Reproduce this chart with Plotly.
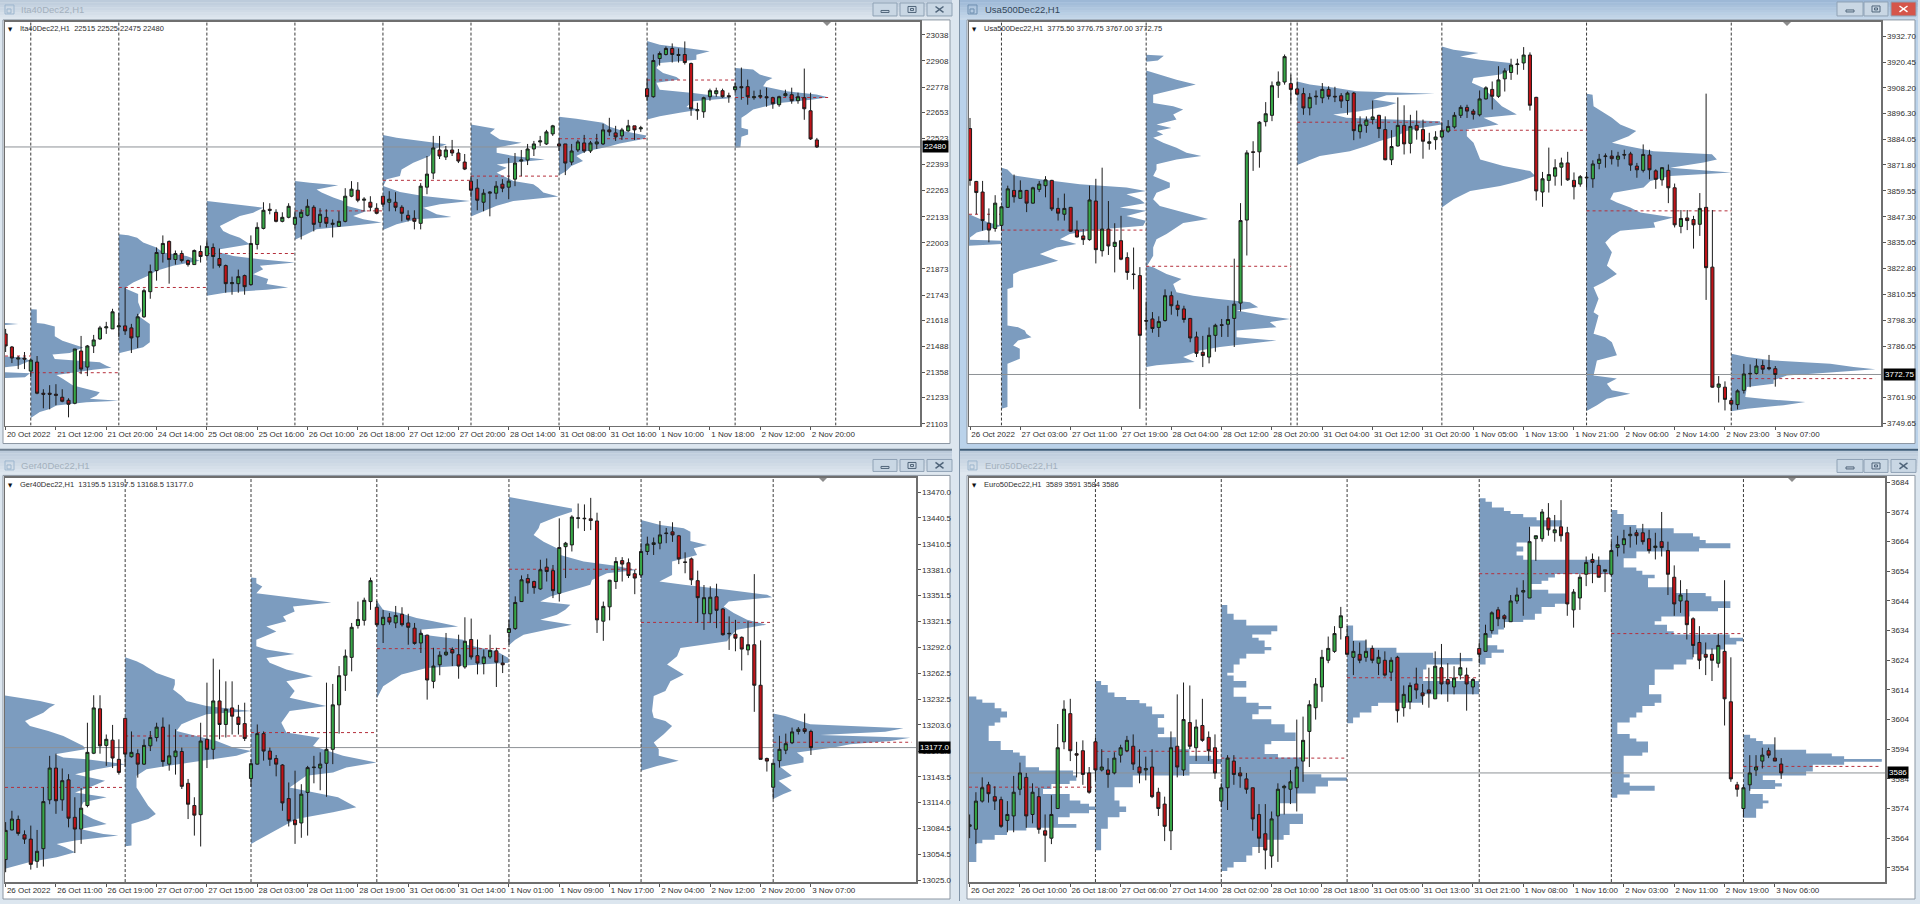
import plotly.graph_objects as go

# ---------- Ita40 ----------
ITA_HEADER = "Ita40Dec22,H1  22515 22525 22475 22480"
ITA_OHLC = [
[21550,21575,21460,21490],[21485,21490,21405,21430],[21425,21440,21375,21430],[21430,21460,21375,21425],[21365,21425,21335,21420],
[21410,21440,21250,21255],[21255,21275,21180,21250],[21255,21295,21175,21250],[21250,21300,21195,21245],[21235,21275,21210,21215],
[21220,21230,21135,21200],[21205,21475,21200,21475],[21465,21540,21350,21375],[21385,21495,21340,21490],[21490,21545,21455,21520],
[21525,21590,21520,21580],[21580,21610,21550,21585],[21575,21675,21575,21660],[21585,21655,21535,21590],[21590,21780,21545,21565],
[21580,21600,21455,21530],[21535,21650,21480,21635],[21635,21775,21630,21765],[21760,21895,21725,21860],[21865,21980,21815,21955],
[21950,22040,21905,22000],[22010,22015,21800,21920],[21920,21965,21895,21950],[21950,21965,21905,21915],[21915,21920,21885,21895],
[21895,21970,21895,21965],[21960,21990,21905,21935],[21940,22015,21930,21985],[21980,22000,21875,21935],[21925,21975,21880,21890],
[21890,21895,21755,21800],[21800,21835,21745,21805],[21800,21870,21755,21835],[21840,21845,21745,21785],[21795,22040,21790,22000],
[21995,22105,21970,22080],[22075,22205,22070,22165],[22170,22200,22145,22165],[22155,22170,22105,22110],[22110,22155,22105,22130],
[22130,22200,22125,22185],[22095,22160,22075,22130],[22130,22170,22020,22155],[22140,22220,22135,22185],[22180,22190,22060,22095],
[22105,22175,22080,22145],[22130,22170,22080,22100],[22095,22120,22030,22100],[22085,22160,22085,22110],[22110,22275,22105,22235],
[22235,22310,22230,22270],[22265,22305,22205,22215],[22215,22230,22160,22220],[22205,22235,22160,22180],[22175,22200,22145,22150],
[22235,22235,22180,22195],[22205,22260,22160,22220],[22205,22255,22160,22180],[22180,22190,22110,22150],[22140,22165,22110,22120],
[22125,22165,22070,22110],[22100,22300,22070,22285],[22280,22435,22245,22345],[22350,22535,22320,22475],[22465,22535,22420,22435],
[22430,22485,22415,22465],[22465,22515,22435,22450],[22450,22470,22400,22410],[22405,22445,22365,22370],[22310,22335,22230,22265],
[22275,22320,22165,22215],[22205,22270,22160,22250],[22250,22260,22135,22255],[22250,22310,22220,22285],[22295,22320,22255,22275],
[22280,22425,22220,22310],[22320,22450,22285,22400],[22410,22465,22335,22415],[22415,22495,22390,22470],[22470,22510,22435,22495],
[22505,22535,22485,22510],[22495,22565,22490,22555],[22545,22590,22535,22585],[22495,22525,22460,22485],[22495,22495,22340,22400],
[22405,22495,22390,22460],[22465,22515,22455,22505],[22500,22540,22450,22460],[22460,22510,22450,22500],[22495,22545,22470,22505],
[22495,22595,22490,22565],[22565,22625,22535,22555],[22550,22585,22510,22530],[22535,22575,22515,22565],[22560,22615,22555,22585],
[22585,22585,22515,22565],[22570,22585,22555,22575],[22770,22820,22710,22730],[22730,22940,22725,22910],[22920,22955,22885,22945],
[22940,22980,22935,22970],[22970,22995,22900,22940],[22935,22970,22900,22940],[22940,23005,22890,22900],[22895,22900,22635,22670],
[22660,22700,22615,22665],[22655,22730,22625,22725],[22730,22770,22710,22760],[22745,22775,22730,22760],[22760,22770,22725,22730],
[22735,22750,22700,22730],[22765,22800,22750,22780],[22780,22875,22715,22775],[22780,22815,22690,22730],[22725,22760,22715,22730],
[22730,22765,22720,22735],[22730,22775,22680,22725],[22725,22730,22670,22695],[22690,22735,22680,22730],[22735,22765,22730,22745],
[22740,22775,22695,22710],[22710,22750,22695,22730],[22725,22870,22615,22670],[22660,22750,22515,22520],[22515,22525,22475,22480],
]
ITA_SEPARATORS = [4,18,32,46,60,74,88,102,116,132]
ITA_XTICKS = ['20 Oct 2022','21 Oct 12:00','21 Oct 20:00','24 Oct 14:00','25 Oct 08:00','25 Oct 16:00','26 Oct 10:00','26 Oct 18:00','27 Oct 12:00','27 Oct 20:00','28 Oct 14:00','31 Oct 08:00','31 Oct 16:00','1 Nov 10:00','1 Nov 18:00','2 Nov 12:00','2 Nov 20:00']
ITA_YTICKS = ['23038','22908','22778','22653','22523','22393','22263','22133','22003','21873','21743','21618','21488','21358','21233','21103']
ITA_LAST = '22480'
# profile rows: (price level, volume)
ITA_PROFILES = [
 (-0.1, 4, 21440, [(21604,0),(21599,40),(21594,0),(21438,0),(21433,55),(21417,75),(21392,40),(21384,0),(21359,0),(21354,75),(21334,60),(21331,0)]),
 (4, 18, 21357, [(21673,0),(21672,18),(21604,18),(21600,40),(21587,72),(21538,72),(21516,95),(21500,122),(21483,157),(21455,117),(21448,65),(21425,72),(21409,207),(21392,227),(21382,242),(21372,187),(21346,77),(21326,97),(21293,127),(21260,207),(21243,197),(21227,177),(21217,264),(21210,167),(21194,77),(21177,57),(21161,27),(21132,0)]),
 (18, 32, 21781, [(22046,0),(22041,28),(22029,55),(22005,73),(21980,113),(21955,133),(21938,203),(21914,243),(21889,163),(21864,113),(21839,88),(21806,43),(21781,20),(21773,23),(21748,58),(21707,58),(21665,68),(21641,58),(21599,93),(21508,93),(21484,73),(21467,30),(21454,0)]),
 (32, 46, 21950, [(22211,0),(22195,79),(22178,169),(22153,139),(22137,99),(22112,69),(22087,39),(22062,49),(22046,69),(22029,99),(21996,129),(21971,39),(21955,39),(21938,79),(21922,159),(21905,264),(21889,159),(21872,169),(21847,139),(21823,184),(21798,179),(21781,244),(21770,179),(21756,59),(21740,0)]),
 (46, 60, 22162, [(22311,0),(22302,45),(22289,130),(22269,65),(22253,80),(22228,115),(22211,145),(22187,155),(22162,215),(22137,175),(22120,205),(22104,260),(22087,165),(22071,65),(22046,35),(22018,0)]),
 (60, 74, 22314, [(22539,0),(22526,41),(22509,121),(22493,191),(22468,151),(22435,141),(22402,91),(22368,56),(22335,51),(22319,11),(22286,1),(22256,51),(22236,121),(22211,261),(22195,171),(22178,121),(22145,161),(22132,206),(22120,101),(22096,41),(22067,0)]),
 (74, 88, 22335, [(22592,0),(22570,72),(22550,57),(22517,87),(22501,152),(22476,77),(22451,77),(22435,127),(22418,222),(22393,77),(22377,107),(22352,77),(22311,127),(22294,187),(22277,202),(22253,217),(22233,262),(22211,127),(22187,77),(22153,27),(22134,0)]),
 (88, 102, 22521, [(22630,0),(22620,52),(22600,132),(22580,152),(22559,192),(22537,262),(22521,257),(22497,182),(22481,147),(22459,82),(22435,52),(22410,72),(22385,37),(22360,22),(22339,0)]),
 (102, 116, 22813, [(23007,0),(22989,38),(22972,118),(22956,188),(22939,148),(22914,148),(22898,38),(22873,28),(22848,48),(22828,88),(22815,98),(22799,28),(22765,38),(22749,138),(22724,258),(22708,138),(22679,118),(22666,158),(22650,98),(22633,38),(22617,0)]),
 (116, 130.8, 22726, [(22873,0),(22865,54),(22840,74),(22823,112),(22807,94),(22782,84),(22757,154),(22741,244),(22727,279),(22716,234),(22699,134),(22683,94),(22666,54),(22641,34),(22625,19),(22575,19),(22567,39),(22542,39),(22531,19),(22478,16),(22476,0)]),
]

# ---------- Usa500 ----------
USA_HEADER = "Usa500Dec22,H1  3775.50 3776.75 3767.00 3772.75"
USA_OHLC = [
[3889,3894,3862,3864.5],[3864,3864.25,3848.5,3858.75],[3859,3864.25,3840.75,3845.5],[3844.25,3851.25,3835.25,3841],[3841.75,3857.5,3840.25,3853.75],
[3843.25,3852.5,3840.75,3852],[3851.75,3862,3851.5,3860.5],[3859.75,3867.25,3854,3856.75],[3856,3864.5,3856,3859.75],[3859.75,3860,3849.5,3853.75],
[3853.75,3861.5,3853.5,3861],[3860.25,3864.25,3859,3862.75],[3862,3866.5,3856.5,3864.75],[3864.5,3864.75,3850,3851],[3851.25,3856.25,3845.5,3849],
[3848.5,3858.25,3845.5,3851.25],[3851.75,3851.75,3840.25,3840.5],[3841,3845.5,3837.5,3837.75],[3838.25,3841.5,3834,3836.5],[3836.5,3862,3836,3855.25],
[3854.75,3865.25,3825.25,3831.75],[3831.25,3870.5,3828.5,3841.5],[3841.5,3854.75,3829.25,3833.5],[3833.25,3844.25,3821,3835.25],[3836,3847.75,3826.75,3827.25],
[3828,3830.5,3817.5,3821],[3820.25,3832.75,3813,3820],[3819.5,3823.5,3756.5,3791.25],[3798.25,3807.25,3794,3798],[3799,3802.25,3792.5,3794.5],
[3795,3800.25,3790.5,3797.75],[3798.25,3813,3797.75,3810],[3810,3812,3801,3805.25],[3805.5,3807.75,3800.25,3803.5],[3803.75,3805.25,3797.25,3798.75],
[3799.25,3799.5,3788,3790],[3790.5,3793,3781,3782.75],[3783.25,3791,3776.25,3781.75],[3781,3795,3778,3791.25],[3791.25,3796.75,3783.5,3796],
[3796.25,3799,3790.5,3796],[3796.5,3805.25,3790.5,3798.75],[3799.25,3827.5,3785.75,3806],[3806.5,3853.75,3802.5,3845.5],[3845.75,3878.75,3829,3877.5],
[3878,3883,3869,3877.75],[3878,3892.5,3870.5,3892],[3892.25,3901.5,3890,3896],[3895.25,3911.25,3892.5,3909.25],[3909.5,3916,3903.5,3911],
[3911,3924,3909.75,3923],[3910.25,3914.5,3900.75,3907.5],[3907.75,3911.25,3905,3905.25],[3905.5,3908.25,3895.5,3898.75],[3898.75,3905.75,3895.25,3903.75],
[3904,3907,3900.25,3904.25],[3903.5,3910.5,3901,3907.5],[3907.5,3909,3902.75,3904.25],[3904.25,3908.75,3901.5,3904],[3904.5,3905.75,3898.75,3902],
[3902.25,3906.5,3895.5,3905.75],[3905.75,3906.25,3883.5,3888],[3887.5,3894.75,3884.25,3890.75],[3890.5,3894.75,3887,3893],[3893.25,3902.25,3891,3894.5],
[3895.25,3895.5,3884.5,3889],[3888.5,3894.75,3874,3874.25],[3874.25,3888.25,3871.75,3880.5],[3880.75,3903.75,3880.5,3890.5],[3890.5,3900,3876.75,3881.75],
[3882,3895.5,3877.25,3890],[3890.5,3897.5,3883.75,3888.25],[3888.5,3893.25,3874.75,3883],[3882,3887,3879,3882.75],[3883.75,3887.75,3879,3885],
[3885,3891.75,3884.5,3888],[3887.75,3893,3887,3890],[3889.75,3896.75,3889,3895.25],[3895.25,3900,3894,3899],[3899,3900.25,3894,3897.25],
[3897.25,3898.25,3893.25,3895.75],[3895.5,3907,3894.75,3903],[3903,3909,3902.75,3908.25],[3907.5,3911.25,3898,3904.25],[3904.25,3918.5,3903.5,3912],
[3912.5,3917.5,3906.5,3916.25],[3915.5,3922,3912,3919],[3919.25,3922,3914.5,3919.5],[3920,3927.5,3916.75,3923.75],[3923.75,3925,3897.5,3900],
[3903.75,3904,3855,3859.5],[3859,3868.5,3852,3865.25],[3864.5,3880,3858.75,3867.25],[3866.5,3874.5,3862,3870.5],[3870.75,3875.25,3862,3872.75],
[3872.75,3878,3864.25,3864.75],[3864.5,3868.25,3855.5,3861.5],[3862.75,3867,3861.5,3866.25],[3866,3868.5,3861,3865.75],[3865.25,3874,3861,3872.25],
[3872.5,3877,3869.75,3874.5],[3875.75,3877.25,3870.5,3876],[3876,3878.75,3872,3874.75],[3874.5,3878,3871,3876],[3876.75,3879,3874.5,3876.5],
[3877,3878,3869,3871.75],[3871.25,3872.75,3865.75,3869.5],[3869.25,3881.5,3868.25,3876.75],[3876.5,3879,3865,3869.5],[3869,3869.75,3860.5,3865],
[3864.75,3870.75,3862,3870.5],[3869.25,3872,3853.75,3861],[3861,3863,3842.25,3843.5],[3842.75,3850.5,3839.5,3846.5],[3846.75,3850.5,3841,3845.5],
[3846,3847.75,3832.25,3843.5],[3843.75,3858.5,3838.25,3851.25],[3851.75,3905.5,3808,3823.25],[3823.5,3850.5,3766.5,3766.75],[3766.75,3772,3759.5,3768.25],
[3766.75,3769.5,3755.75,3761],[3760.5,3761.75,3755.5,3758.75],[3758.5,3765.75,3756.25,3765],[3765.25,3777.75,3763.75,3773],[3773,3777.5,3766.75,3773.25],
[3773.25,3780,3772.75,3776.75],[3777,3779.5,3773,3775.25],[3776,3782,3774.75,3775.5],[3775.5,3776.75,3767.0,3772.75],
]
USA_SEPARATORS = [5,28,51,52,75,98,121]
USA_XTICKS = ['26 Oct 2022','27 Oct 03:00','27 Oct 11:00','27 Oct 19:00','28 Oct 04:00','28 Oct 12:00','28 Oct 20:00','31 Oct 04:00','31 Oct 12:00','31 Oct 20:00','1 Nov 05:00','1 Nov 13:00','1 Nov 21:00','2 Nov 06:00','2 Nov 14:00','2 Nov 23:00','3 Nov 07:00']
USA_YTICKS = ['3932.70','3920.45','3908.20','3896.30','3884.05','3871.80','3859.55','3847.30','3835.05','3822.80','3810.55','3798.30','3786.05','3761.90','3749.65']
USA_LAST = '3772.75'
USA_PROFILES = [
 (-0.16, 5, 3848.5, [(3848.5,0),(3844.6,58),(3843,98),(3841.4,58),(3839.9,23),(3837.5,3),(3836.4,3),(3836,98),(3834.4,98),(3833.6,0)]),
 (5, 28, 3841, [(3870.5,0),(3869.7,18),(3866.9,35),(3865,115),(3862.7,235),(3861.1,375),(3859.5,433),(3857.9,375),(3855.6,415),(3853.7,430),(3851.7,355),(3850.1,435),(3847.7,375),(3845.4,433),(3843,425),(3841.1,275),(3839.1,205),(3836.7,175),(3834.4,225),(3832.8,165),(3829.7,115),(3826.5,170),(3824.2,115),(3821.8,55),(3820.2,35),(3814,35),(3813.2,18),(3795.9,18),(3795.1,50),(3793.5,70),(3792,75),(3790.4,90),(3788.8,50),(3786.5,35),(3784.9,55),(3780.2,55),(3777.8,18),(3757.4,18),(3756.6,0)]),
 (28, 51, 3823.9, [(3923.9,0),(3923.4,53),(3921.2,35),(3920.6,0),(3916.5,0),(3914.5,41),(3912.1,91),(3909.8,149),(3908.7,121),(3906.6,61),(3905,21),(3901.1,21),(3899.6,81),(3898,111),(3895.6,81),(3893.3,91),(3890.9,31),(3889.3,76),(3887.8,31),(3886.2,51),(3884.6,21),(3882.3,51),(3879.9,91),(3877.6,121),(3876,166),(3874.4,91),(3872.1,31),(3869.7,31),(3866.6,21),(3863.4,71),(3861.1,71),(3858.7,31),(3855.6,21),(3852.4,41),(3849.3,111),(3846.2,186),(3844.3,111),(3841.4,81),(3839.1,61),(3836.7,31),(3832.8,21),(3828.9,21),(3824.2,3),(3823.4,21),(3820.2,61),(3817.9,106),(3815.5,81),(3811.6,91),(3810,141),(3808.5,211),(3806.9,311),(3804.5,336),(3803,271),(3800.6,356),(3799,431),(3797.5,371),(3795.1,391),(3793.5,271),(3790.4,271),(3788.8,391),(3787.2,301),(3785.7,221),(3784.1,161),(3781,111),(3778.6,146),(3777.1,31),(3776.3,0)]),
 (52, 75, 3892, [(3911.3,0),(3909.8,38),(3908.2,118),(3906.6,178),(3905.5,413),(3904.8,268),(3902.7,228),(3901.1,298),(3899.6,268),(3897.2,188),(3895.6,108),(3894.1,148),(3892.5,428),(3890.9,433),(3889.3,368),(3887.8,328),(3885.4,298),(3883.1,248),(3880.7,208),(3878.3,158),(3876,68),(3873.6,28),(3871.8,0)]),
 (75, 98, 3888.2, [(3927.8,0),(3926.3,35),(3924.7,110),(3923.1,55),(3921.5,115),(3920,205),(3917.6,215),(3914.5,175),(3912.9,95),(3910.6,90),(3908.2,125),(3904.3,150),(3899.6,180),(3895.6,225),(3894.1,125),(3890.9,170),(3888.6,75),(3885.4,75),(3882.3,95),(3874.4,115),(3871.3,185),(3868.9,265),(3866.6,280),(3864.2,235),(3861.9,175),(3859.5,85),(3855.6,35),(3851.7,0)]),
 (98, 121, 3850.1, [(3905.5,0),(3905,18),(3899.6,21),(3896.4,51),(3894.1,76),(3890.9,101),(3887.8,149),(3885.4,126),(3882.3,76),(3880.7,121),(3878.3,201),(3876.8,376),(3874.4,391),(3872.9,351),(3870.5,251),(3868.2,434),(3866.6,251),(3864.2,191),(3861.1,171),(3858.7,81),(3855.6,71),(3854,91),(3851.7,131),(3849.3,161),(3846.9,261),(3844.6,201),(3842.2,206),(3840.7,101),(3838.3,76),(3835.2,56),(3830.5,76),(3824.2,61),(3820.2,91),(3816.3,51),(3814,21),(3808.5,36),(3802.2,21),(3800.6,36),(3792,21),(3790.4,56),(3788,76),(3781.8,91),(3779.4,31),(3772.3,21),(3770.8,91),(3768.4,61),(3765.3,76),(3763.7,131),(3761.3,61),(3758.2,31),(3755.5,0)]),
 (121, 143.9, 3770.8, [(3782.5,0),(3781,47),(3779.4,127),(3777.8,297),(3776.3,367),(3775.2,432),(3773.9,317),(3772.3,167),(3770,127),(3768.4,127),(3766.8,47),(3762.1,42),(3761,107),(3759.8,222),(3758.2,157),(3756.6,47),(3755.4,0)]),
]

# ---------- Ger40 ----------
GER_HEADER = "Ger40Dec22,H1  13195.5 13197.5 13168.5 13177.0"
GER_OHLC = [
[13048.5,13091.5,13034,13082],[13082.5,13104.5,13082,13095],[13094.5,13099,13076,13078.5],[13077,13082,13066.5,13072],[13072,13087.5,13037,13043],
[13046.5,13082.5,13039,13058],[13061,13131.5,13040.5,13115],[13117,13167.5,13112,13153.5],[13153.5,13170,13101,13116],[13117,13153,13104.5,13139],
[13140,13146.5,13085.5,13096],[13097,13120,13056,13083.5],[13083.5,13130.5,13066.5,13107.5],[13110.5,13205.5,13108.5,13171.5],[13170.5,13237,13169.5,13222.5],
[13221.5,13237,13170,13179],[13179.5,13192,13156,13186.5],[13185.5,13203,13153.5,13165],[13163.5,13186.5,13146,13148.5],[13210.5,13211.5,13155,13169.5],
[13166.5,13195.5,13165.5,13171.5],[13170,13175,13142.5,13158],[13158,13186.5,13157,13179.5],[13179,13196,13173,13188.5],[13188.5,13205.5,13184,13200.5],
[13200.5,13211.5,13155,13161],[13158,13203.5,13150.5,13167.5],[13166.5,13198,13146,13173],[13172.5,13177,13129.5,13132.5],[13136,13141,13095,13112],
[13110.5,13120,13076,13099.5],[13100,13205.5,13063.5,13184.5],[13186.5,13251.5,13153.5,13175],[13175,13279,13163.5,13230.5],[13230.5,13266.5,13186.5,13203.5],
[13203.5,13253,13188.5,13221],[13222.5,13253,13192,13213],[13212,13226,13192,13203.5],[13204.5,13228.5,13184.5,13187.5],[13141.5,13163.5,13132,13158.5],
[13158,13203.5,13157.5,13193],[13193,13195.5,13162,13173],[13173,13177,13156,13163.5],[13164.5,13168.5,13144,13158],[13157,13158,13104.5,13113.5],
[13118.5,13137,13086.5,13093],[13094,13150.5,13066.5,13088.5],[13090.5,13135,13073.5,13123.5],[13125.5,13156,13076,13154],[13154,13167.5,13136,13154.5],
[13153.5,13171.5,13128,13158],[13159,13251.5,13120.5,13175],[13175,13250,13158,13226],[13226,13270.5,13193,13259.5],[13260,13289.5,13242,13282],
[13280.5,13320,13264.5,13315],[13317,13344.5,13313.5,13324],[13323,13349,13317,13346],[13344.5,13372,13335,13368.5],[13338,13345.5,13316,13318],
[13318,13335,13297,13326.5],[13326.5,13331.5,13318,13321],[13320,13339.5,13314,13328.5],[13330,13338,13316,13318],[13320,13330.5,13295,13315],
[13314,13320,13295,13296.5],[13297,13312.5,13285.5,13308],[13306,13306.5,13232,13254.5],[13253,13291.5,13245,13270.5],[13272,13287.5,13260,13283],
[13283.5,13308.5,13282,13286.5],[13289.5,13292,13270.5,13285.5],[13283.5,13306.5,13256,13270.5],[13269.5,13326.5,13267.5,13299],[13301,13325,13278,13281],
[13282.5,13301,13261,13274],[13273.5,13289.5,13261,13281],[13281,13306.5,13279,13288.5],[13288,13291.5,13246.5,13275],[13274,13283,13262.5,13272],
[13309,13323.5,13295,13313.5],[13313.5,13350.5,13312,13343.5],[13344.5,13374.5,13344,13369.5],[13371,13376,13353.5,13366],[13367.5,13368.5,13353.5,13360.5],
[13359,13392.5,13358,13381],[13384,13394,13367.5,13379],[13380,13386.5,13348.5,13357],[13354,13440,13344.5,13406.5],[13407.5,13413,13371.5,13411.5],
[13409.5,13443.5,13402,13441.5],[13440,13457,13428.5,13440.5],[13439.5,13456,13425.5,13440],[13439.5,13463.5,13426.5,13437.5],[13437,13446.5,13308.5,13323.5],
[13322,13344.5,13299.5,13339],[13338.5,13369.5,13323,13369],[13367.5,13395.5,13359,13390.5],[13391.5,13395.5,13367.5,13387.5],[13389,13394,13371.5,13374.5],
[13376.5,13381,13353,13371.5],[13375,13411.5,13371.5,13402],[13402,13419,13398,13410.5],[13410,13418,13398,13412],[13411.5,13437,13404.5,13421],
[13422.5,13429,13411.5,13423],[13424.5,13435.5,13413,13421],[13420,13421,13387.5,13393.5],[13390,13401,13377,13389.5],[13393.5,13395,13363.5,13369.5],
[13368.5,13380,13320.5,13349],[13330.5,13363.5,13312,13349],[13330.5,13362,13320,13349.5],[13350,13365,13314,13334.5],[13336,13337,13305.5,13306.5],
[13307.5,13327.5,13289,13308],[13307,13323.5,13287.5,13302.5],[13303.5,13304.5,13265.5,13290],[13289,13322,13283,13295],[13295,13376,13218,13248.5],
[13248.5,13300,13163.5,13163.5],[13164.5,13165.5,13149.5,13161.5],[13131.5,13160,13118,13159],[13162,13190.5,13154,13175],[13174,13193,13169.5,13181.5],
[13182.5,13200,13181,13195],[13195.5,13200.5,13192,13198],[13198.5,13216,13193,13195.5],[13195.5,13197.5,13168.5,13177.0],
]
GER_SEPARATORS = [19,39,59,80,101,122]
GER_XTICKS = ['26 Oct 2022','26 Oct 11:00','26 Oct 19:00','27 Oct 07:00','27 Oct 15:00','28 Oct 03:00','28 Oct 11:00','28 Oct 19:00','31 Oct 06:00','31 Oct 14:00','1 Nov 01:00','1 Nov 09:00','1 Nov 17:00','2 Nov 04:00','2 Nov 12:00','2 Nov 20:00','3 Nov 07:00']
GER_YTICKS = ['13470.0','13440.5','13410.5','13381.0','13351.5','13321.5','13292.0','13262.5','13232.5','13203.0','13173.0','13143.5','13114.0','13084.5','13054.5','13025.0']
GER_LAST = '13177.0'
GER_PROFILES = [
 (-0.1, 19, 13131.3, [(13236.8,0),(13234.1,45),(13230.3,105),(13226.5,150),(13222.7,133),(13217,115),(13213.2,95),(13207.5,60),(13201.8,75),(13196,130),(13190.3,175),(13184.6,205),(13178.9,235),(13175.1,240),(13169.4,150),(13165.6,175),(13163.7,245),(13158,360),(13152.2,275),(13146.5,210),(13138.9,300),(13133.2,265),(13125.6,210),(13119.9,305),(13114.2,235),(13106.5,225),(13100.8,235),(13095.1,265),(13089.4,305),(13083.6,225),(13077.9,295),(13076,340),(13070.3,210),(13066.5,155),(13062.7,180),(13057,210),(13051.3,155),(13045.6,75),(13037.9,0)]),
 (19, 39, 13190.3, [(13280.6,0),(13276.1,34),(13272.2,54),(13262.7,94),(13255.1,149),(13249.4,149),(13243.7,144),(13236.1,169),(13230.3,184),(13224.6,244),(13218.9,378),(13215.1,244),(13209.4,204),(13203.7,169),(13196,154),(13184.6,274),(13177,324),(13173.2,378),(13167.5,334),(13161.8,224),(13156,124),(13152.2,64),(13144.6,34),(13131.3,34),(13119.9,54),(13110.3,69),(13100.8,92),(13095.1,69),(13089.4,19),(13064.6,19),(13063.8,0)]),
 (39, 59, 13194.2, [(13372,0),(13371.5,16),(13365.6,16),(13361.8,34),(13354.2,16),(13350.4,96),(13346.6,186),(13343.5,241),(13338.9,126),(13333.2,131),(13327.5,96),(13321.8,106),(13316,46),(13310.3,76),(13300.8,16),(13293.2,16),(13289.4,46),(13284.4,131),(13279.9,46),(13274.2,56),(13266.5,106),(13258.9,186),(13253.2,106),(13241.8,131),(13234.1,116),(13224.6,226),(13218.9,116),(13205.6,91),(13194.2,106),(13188.4,206),(13178.9,186),(13167.5,276),(13159.9,376),(13154.1,286),(13148.4,246),(13144.6,166),(13131.3,116),(13119.9,261),(13108.4,316),(13102.7,246),(13095.1,136),(13083.6,81),(13074.1,36),(13066.5,0)]),
 (59, 80, 13290.5, [(13345.4,0),(13335.1,19),(13331.3,69),(13325.6,119),(13321.8,169),(13316,244),(13312.3,129),(13306.5,139),(13300.8,259),(13295.1,269),(13287.5,359),(13279.9,395),(13274.2,395),(13268.4,149),(13260.8,74),(13255.1,49),(13247.5,19),(13233.4,0)]),
 (80, 100.3, 13381.6, [(13464.6,0),(13460.8,54),(13455.1,124),(13451.3,189),(13447.5,189),(13441.8,144),(13434.2,94),(13428.5,89),(13420.8,74),(13413.2,104),(13405.6,144),(13398,154),(13390.4,224),(13385.8,314),(13380.8,384),(13377,294),(13369.4,249),(13363.7,244),(13358,194),(13350.4,124),(13344.6,94),(13340.8,184),(13335.1,169),(13329.4,144),(13323.7,94),(13318,189),(13312.3,114),(13306.5,44),(13300.8,19),(13294.3,0)]),
 (101, 122, 13320.6, [(13438,0),(13432.3,58),(13428.5,128),(13424.6,148),(13414,148),(13409.4,198),(13405.6,158),(13398,168),(13390.4,93),(13375.1,93),(13367.5,55),(13363.7,128),(13358,258),(13352.3,378),(13349.6,393),(13344.6,263),(13338.9,248),(13331.3,278),(13323.7,318),(13318,376),(13312.3,288),(13304.6,268),(13298.9,258),(13291.3,118),(13281.8,108),(13272.2,78),(13260.8,128),(13253.2,88),(13241.8,73),(13236.1,38),(13218.9,33),(13211.3,38),(13207.5,73),(13201.8,93),(13192.2,68),(13182.7,38),(13175.1,53),(13167.5,53),(13161.8,113),(13156,48),(13150.3,0)]),
 (122, 144, 13183.1, [(13216.2,0),(13213.2,36),(13207.5,81),(13203.7,111),(13199.1,391),(13195.3,336),(13191.5,141),(13188.4,411),(13184.6,351),(13180.8,231),(13177,181),(13171.3,71),(13165.6,91),(13159.9,91),(13154.9,21),(13144.6,56),(13138.9,16),(13127.5,56),(13123.7,31),(13118,0)]),
]

# ---------- Euro50 ----------
EUR_HEADER = "Euro50Dec22,H1  3589 3591 3584 3586"
EUR_OHLC = [
[3568,3572,3564,3568.5],[3567,3579.5,3562,3576.5],[3576.5,3584.5,3576,3581],[3582,3583,3576,3579],[3578,3581.5,3573.5,3576.5],
[3577,3578,3567.5,3568],[3570,3576.5,3566,3572],[3571.5,3585,3566,3579.5],[3580.5,3589.5,3578.5,3586],[3584.5,3586,3567.5,3571.5],
[3572,3582.5,3569,3579.5],[3578,3581,3565.5,3567],[3566.5,3572,3556,3565],[3564,3578.5,3562,3572],[3574,3602.5,3574,3594.5],
[3596.5,3610.5,3594,3607.5],[3606,3611,3590,3593.5],[3592.5,3596.5,3584.5,3592],[3593.5,3597,3582,3585.5],[3586,3588,3579,3579.5],
[3596.5,3598,3583.5,3587],[3587,3594,3586.5,3588],[3587,3591,3581,3585.5],[3586,3593,3585.5,3591],[3592,3595.5,3589.5,3594.5],
[3593.5,3598.5,3593,3597],[3595,3599,3587,3589],[3588,3594,3582.5,3586],[3587,3591.5,3583.5,3587.5],[3588,3594,3577.5,3578],
[3579.5,3581,3571.5,3574],[3575.5,3578,3563,3568],[3566.5,3600,3560,3594.5],[3595,3612.5,3584.5,3588],[3587,3616.5,3585,3604],
[3603,3615.5,3594,3595],[3594.5,3604,3590,3601.5],[3602,3611,3596.5,3597],[3598,3600,3590,3593.5],[3594.5,3599,3584,3586],
[3576.5,3582.5,3574.5,3581],[3581,3592,3573.5,3591],[3590,3592,3582,3585.5],[3586,3588,3581,3585],[3584,3586,3579,3580.5],
[3581,3581,3566.5,3570.5],[3572,3575.5,3559,3564],[3565.5,3575.5,3553.5,3560],[3558,3573,3554,3570.5],[3571.5,3582.5,3556,3580.5],
[3581,3582,3572,3581.5],[3580.5,3587,3575.5,3583],[3581,3604,3573,3588],[3590,3605,3583,3597],[3600,3610.5,3588,3609],
[3608,3618,3604,3616],[3615,3627.5,3610,3625],[3624,3632,3623,3628],[3627,3635.5,3626.5,3633],[3635,3642,3631,3639],
[3632,3635.5,3626,3626],[3625,3630.5,3619,3627],[3626,3630,3623,3624],[3625,3631,3623.5,3627],[3628,3629,3623,3624],
[3623,3627.5,3619,3625],[3624,3627,3618.5,3619],[3620,3625,3617,3624],[3625,3625.5,3603,3607],[3608,3615.5,3605,3612.5],
[3610,3616.5,3607.5,3615.5],[3616,3621.5,3611,3614],[3613,3616,3609,3612],[3614,3621.5,3608,3613],[3611,3627,3611,3622],
[3621.5,3629.5,3612.5,3616],[3617.5,3623,3610,3616],[3615,3622,3612.5,3618],[3619,3626.5,3617.5,3621.5],[3619,3621.5,3607,3616],
[3615,3618,3612.5,3617.5],[3628,3630,3623,3626],[3627,3636,3627,3633],[3634,3640.5,3633,3640],[3641,3642,3635.5,3638],
[3639,3639.5,3635,3638],[3637,3646,3637,3644],[3644,3648.5,3643,3646],[3647,3651,3639,3647.5],[3645,3669,3645,3664],
[3665,3666,3657.5,3666],[3665,3675,3664,3674],[3672,3677,3666,3668],[3667,3673,3664,3668],[3669,3678,3664,3666],
[3667,3669,3639,3643],[3641,3648,3635,3647],[3645,3653,3641,3652],[3653,3659,3649,3657],[3658,3660,3650,3657],
[3656,3659,3652,3652],[3654,3654.5,3647,3654.5],[3653,3664,3652.5,3661],[3662,3666,3659,3663],[3663,3668,3660,3665],
[3666,3669,3662,3666.5],[3667,3668,3663,3666],[3667,3670,3663,3664],[3665,3668,3660,3661],[3662,3667,3658,3662.5],
[3664,3674,3659,3662],[3661,3664,3646,3653],[3652,3656,3639,3643],[3644,3651,3640,3646],[3644,3648,3631,3636],
[3638,3638.5,3625,3629],[3630,3635.5,3621,3624],[3626,3630,3619,3625],[3626,3628,3617,3624],[3623,3633,3621.5,3629],
[3627,3651,3602,3611],[3610,3625,3583,3584],[3582,3583,3578,3580.5],[3574,3582,3571,3581],[3582,3592,3580,3586],
[3587,3592,3585,3588],[3590,3594.5,3587.5,3592],[3593.5,3594.5,3591,3592],[3591,3598,3590,3590],[3589,3591,3584,3586],
]
EUR_SEPARATORS = [20,40,60,81,102,123]
EUR_XTICKS = ['26 Oct 2022','26 Oct 10:00','26 Oct 18:00','27 Oct 06:00','27 Oct 14:00','28 Oct 02:00','28 Oct 10:00','28 Oct 18:00','31 Oct 05:00','31 Oct 13:00','31 Oct 21:00','1 Nov 08:00','1 Nov 16:00','2 Nov 03:00','2 Nov 11:00','2 Nov 19:00','3 Nov 06:00']
EUR_YTICKS = ['3684','3674','3664','3654','3644','3634','3624','3614','3604','3594','3584','3574','3564','3554']
EUR_LAST = '3586'
EUR_PROFILES = [
 (-0.1, 20, 3581.2, [(3611.8,22),(3610.8,40),(3609.7,77),(3607.8,97),(3606.7,114),(3604.7,94),(3603,77),(3601.9,59),(3596.8,95),(3593.7,132),(3592.9,152),(3591.8,170),(3587.9,210),(3586.8,312),(3585.1,322),(3583.4,302),(3582.3,247),(3580.6,222),(3578.9,302),(3576.7,334),(3575.6,360),(3574.7,380),(3573.5,360),(3572.4,302),(3571.1,267),(3568.8,322),(3567.5,172),(3566.6,114),(3565.1,77),(3563.5,40),(3562.3,22),(3556,0)]),
 (20, 40, 3593.3, [(3617,17),(3615.7,37),(3613.1,57),(3611.6,92),(3610.6,132),(3609.5,152),(3608.4,170),(3605.8,206),(3604.5,187),(3601.3,206),(3599.1,187),(3598,242),(3594,282),(3591.8,347),(3590.7,377),(3589,282),(3585.1,112),(3581.2,57),(3576.7,72),(3574.7,92),(3572.8,72),(3571.1,37),(3567.2,17),(3559.9,0)]),
 (40, 60, 3591, [(3642.6,18),(3639.7,37),(3637.7,75),(3635.7,168),(3633.8,150),(3632.7,93),(3631.6,112),(3630.7,130),(3628.5,150),(3627.4,130),(3626.2,75),(3624.6,55),(3622.6,37),(3619.8,18),(3618.9,37),(3617,75),(3614.8,37),(3611.7,75),(3609.7,112),(3608.6,150),(3607.5,112),(3605.8,93),(3604.1,150),(3602.4,190),(3599.6,223),(3596.8,150),(3595.7,130),(3592.4,170),(3591.2,245),(3585.6,300),(3584.5,377),(3583.4,320),(3581.4,283),(3579.1,225),(3575.8,170),(3572.2,245),(3568.8,205),(3565.1,187),(3563.5,130),(3561,93),(3558.2,75),(3556,37),(3554.1,18),(3552.9,0)]),
 (60, 81, 3618.1, [(3635.7,18),(3630.7,58),(3628.2,148),(3626.5,258),(3624.8,376),(3623.7,338),(3622.6,238),(3620.9,228),(3617,396),(3612.5,228),(3609.7,93),(3608.6,73),(3606.4,38),(3604.7,18),(3602.8,0)]),
 (81, 102, 3653.2, [(3678.6,19),(3677.5,38),(3675.5,74),(3674.3,94),(3673.3,132),(3672.2,172),(3671.2,247),(3669.1,152),(3663.7,112),(3662.4,132),(3660.7,112),(3659.3,132),(3657.9,397),(3653.1,227),(3651.9,207),(3650.8,187),(3649.7,152),(3647.8,207),(3646.5,265),(3643.1,227),(3642,187),(3639.7,167),(3637.7,132),(3636.9,74),(3634.4,57),(3632.7,38),(3631.6,19),(3629.1,54),(3627.6,74),(3626.5,37),(3624.8,19),(3622.6,0)]),
 (102, 123, 3633, [(3674.7,18),(3673.3,37),(3669.6,75),(3668.5,187),(3666.8,245),(3665.7,265),(3664.6,283),(3663.5,357),(3661.8,263),(3660.7,75),(3658.4,37),(3655.3,75),(3654.2,93),(3652.8,130),(3651.7,110),(3648.6,187),(3646.7,283),(3645.6,300),(3643.9,357),(3641.6,320),(3640.5,235),(3638.8,150),(3637.2,130),(3636,167),(3633.8,187),(3632.7,355),(3631.6,395),(3630.4,375),(3629.3,340),(3627.6,283),(3626,245),(3624.3,225),(3622.6,187),(3620.9,130),(3617.3,130),(3615.7,113),(3612.5,150),(3609.7,130),(3608.6,93),(3606.4,75),(3604.7,55),(3603,18),(3599.1,55),(3597.6,75),(3596.6,110),(3592.9,93),(3591.8,37),(3585.6,55),(3584.5,37),(3582.8,55),(3581.7,130),(3580,55),(3578.7,18),(3577.6,0)]),
 (123, 144.9, 3588.2, [(3598.9,20),(3597.7,38),(3596.8,58),(3595.7,95),(3593.8,188),(3592.6,265),(3591.6,302),(3590.7,415),(3589.8,302),(3588.8,208),(3586.5,188),(3585.1,58),(3583.6,95),(3582.5,115),(3581.4,95),(3580.6,20),(3578.9,58),(3576.7,75),(3575.8,58),(3573.9,38),(3570.9,0)]),
]

BARS_PER_VOLUME = 1 / 18.87
TICK_STEP = 8

# ---------- page geometry (px) and styles ----------
W, H = 1920, 904
PX = lambda v: v / W
PY = lambda v: 1 - v / H
FONT = "Liberation Sans"
BLUE = "#7C9CBF"
GREEN, RED = "#36A646", "#C01318"

panels = [
 dict(key="", over="5", rect=(5, 22, 920, 427), xr=(-0.1, 145.4), yr=(21094, 23102), ohlc=ITA_OHLC, sep=ITA_SEPARATORS, xt=ITA_XTICKS, yt=ITA_YTICKS,
      last=ITA_LAST, prof=ITA_PROFILES, step=False, head=ITA_HEADER, hx=17.5, tx=10, title="Ita40Dec22,H1", tmark=827),
 dict(key="2", over="6", rect=(969, 22, 1881, 427), xr=(-0.16, 144.8), yr=(3748.6, 3939.4), ohlc=USA_OHLC, sep=USA_SEPARATORS, xt=USA_XTICKS, yt=USA_YTICKS,
      last=USA_LAST, prof=USA_PROFILES, step=False, head=USA_HEADER, hx=982, tx=974.5, title="Usa500Dec22,H1", tmark=1787),
 dict(key="3", over="7", rect=(5, 479.5, 916, 885), xr=(-0.1, 144.7), yr=(13022.7, 13486.4), ohlc=GER_OHLC, sep=GER_SEPARATORS, xt=GER_XTICKS, yt=GER_YTICKS,
      last=GER_LAST, prof=GER_PROFILES, step=False, head=GER_HEADER, hx=17.5, tx=10, title="Ger40Dec22,H1", tmark=823),
 dict(key="4", over="8", rect=(969, 479.5, 1885, 885), xr=(-0.1, 145.5), yr=(3549.2, 3685.5), ohlc=EUR_OHLC, sep=EUR_SEPARATORS, xt=EUR_XTICKS, yt=EUR_YTICKS,
      last=EUR_LAST, prof=EUR_PROFILES, step=True, head=EUR_HEADER, hx=982, tx=974.5, title="Euro50Dec22,H1", tmark=1792),
]
windows = [
 dict(x0=0, y0=0, x1=952, y1=450, tb=20, client=(3, 20, 950, 445), active=False, btn=((873, 897), (900, 924), (927, 952)), by=(3, 16), tx=19, ix=5),
 dict(x0=960, y0=0, x1=1918, y1=450, tb=20, client=(967, 20, 1915, 445), active=True, btn=((1837, 1863), (1864, 1888), (1891, 1916)), by=(2, 16), tx=983, ix=968),
 dict(x0=0, y0=452, x1=952, y1=904, tb=25, client=(3, 477, 950, 902), active=False, btn=((873, 897), (900, 924), (927, 952)), by=(461, 473), tx=19, ix=5),
 dict(x0=960, y0=452, x1=1918, y1=904, tb=25, client=(967, 477, 1915, 902), active=False, btn=((1837, 1863), (1864, 1888), (1891, 1916)), by=(461, 474), tx=983, ix=968),
]

fig = go.Figure()
shapes, annots = [], []

def rect(x0, y0, x1, y1, fill=None, line=None, lw=1):
    shapes.append(dict(type="rect", xref="paper", yref="paper", layer="below",
                       x0=PX(x0), x1=PX(x1), y0=PY(y1), y1=PY(y0),
                       fillcolor=fill or "rgba(0,0,0,0)",
                       line=dict(color=line or "rgba(0,0,0,0)", width=lw if line else 0)))

def seg(x0, y0, x1, y1, color, lw=1):
    shapes.append(dict(type="line", xref="paper", yref="paper", layer="below",
                       x0=PX(x0), x1=PX(x1), y0=PY(y0), y1=PY(y1), line=dict(color=color, width=lw)))

def mix(a, b, t):
    ca = [int(a[i:i+2], 16) for i in (1, 3, 5)]
    cb = [int(b[i:i+2], 16) for i in (1, 3, 5)]
    return "#%02x%02x%02x" % tuple(round(p + (q - p) * t) for p, q in zip(ca, cb))

for win, pan in zip(windows, panels):
    top, bottom = ("#9DB8D6", "#C6D8E9") if win["active"] else ("#BCCBDB", "#DFE7EF")
    body = "#BAD2EA" if win["active"] else "#DCE6EF"
    rect(win["x0"], win["y0"], win["x1"], win["y1"], fill=body)
    n = 8
    tb_h = win["tb"] / n
    for i in range(n):
        rect(win["x0"], win["y0"] + i * tb_h, win["x1"], win["y0"] + (i + 1) * tb_h, fill=mix(top, bottom, i / (n - 1)))
    c = win["client"]
    rect(c[0], c[1], c[2], c[3], fill="#FFFFFF", line="#8C97A3", lw=1)
    iy = win["y0"] + win["tb"] * 0.5 + (0 if win["y0"] == 0 else 3)
    ic = "#6F8FB0" if win["active"] else "#9DB6CE"
    rect(win["ix"], iy - 5, win["ix"] + 9, iy + 4, line=ic)
    rect(win["ix"] + 2, iy - 1, win["ix"] + 6, iy + 3, line=ic)
    annots.append(dict(text=pan["title"], xref="paper", yref="paper", x=PX(win["tx"]), y=PY(iy), xanchor="left", yanchor="middle",
                       showarrow=False, font=dict(family=FONT, size=9.5, color="#33465A" if win["active"] else "#A3B0BD")))
    by0, by1 = win["by"]
    for j, (bx0, bx1) in enumerate(win["btn"]):
        is_close_red = win["active"] and j == 2
        rect(bx0, by0, bx1, by1, fill="#D5554A" if is_close_red else "#C9D7E4", line="#8FA2B5")
        cx, cy = (bx0 + bx1) / 2, (by0 + by1) / 2
        gc = "#FFFFFF" if is_close_red else "#50657A"
        if j == 0:
            rect(cx - 4, cy + 1, cx + 4, cy + 3, line=gc)
        elif j == 1:
            rect(cx - 4, cy - 3, cx + 4, cy + 3, line=gc)
            rect(cx - 1.5, cy - 1, cx + 1.5, cy + 1, line=gc)
        else:
            seg(cx - 4, cy - 3, cx + 4, cy + 3, gc, 1.5)
            seg(cx - 4, cy + 3, cx + 4, cy - 3, gc, 1.5)

seg(0, 451.3, 952, 451.3, "#6E7F90", 2)
seg(960, 451.3, 1918, 451.3, "#3F5C78", 2)
seg(959.5, 0, 959.5, 904, "#7F93A7", 1)

layout_axes = {}
for p in panels:
    k = p["key"]
    o = p["over"]
    xa, ya = f"x{k}", f"y{k}"
    xo, yo = f"x{o}", f"y{o}"
    left, ptop, right, pbot = p["rect"]
    ohlc = p["ohlc"]
    bars = list(range(len(ohlc)))
    opens = [r[0] for r in ohlc]
    highs = [r[1] for r in ohlc]
    lows = [r[2] for r in ohlc]
    closes = [r[3] for r in ohlc]
    last = closes[-1]
    ymin, ymax = p["yr"]

    for start, end, poc, rows in p["prof"]:
        px, py = [start], [rows[0][0]]
        if p["step"]:
            for (lvl, vol), (nxt, _) in zip(rows[:-1], rows[1:]):
                xx = start + vol * BARS_PER_VOLUME
                px += [xx, xx]
                py += [lvl, nxt]
            px.append(start)
            py.append(rows[-1][0])
        else:
            for lvl, vol in rows:
                px.append(start + vol * BARS_PER_VOLUME)
                py.append(lvl)
            px.append(start)
            py.append(rows[-1][0])
        fig.add_trace(go.Scatter(x=px, y=py, xaxis=xa, yaxis=ya, mode="lines", fill="toself", fillcolor=BLUE,
                                 line=dict(width=0, color=BLUE), hoverinfo="skip", showlegend=False))

    sx, sy = [], []
    for s in p["sep"]:
        sx += [s, s, None]
        sy += [ymin, ymax, None]
    fig.add_trace(go.Scatter(x=sx, y=sy, xaxis=xa, yaxis=ya, mode="lines", hoverinfo="skip", showlegend=False,
                             line=dict(color="#3A3A3A", width=1, dash="3px,2px")))
    fig.add_trace(go.Scatter(x=list(p["xr"]), y=[last, last], xaxis=xa, yaxis=ya, mode="lines", hoverinfo="skip", showlegend=False,
                             line=dict(color="#8E9296", width=1)))
    qx, qy = [], []
    for start, end, poc, rows in p["prof"]:
        qx += [start, end, None]
        qy += [poc, poc, None]
    fig.add_trace(go.Scatter(x=qx, y=qy, xaxis=xa, yaxis=ya, mode="lines", hoverinfo="skip", showlegend=False,
                             line=dict(color="#B5303C", width=1, dash="3px,3px")))
    # candles live on an overlaying axis pair so they are painted over the profiles
    fig.add_trace(go.Candlestick(x=bars, open=opens, high=highs, low=lows, close=closes, xaxis=xo, yaxis=yo,
                                 whiskerwidth=0, hoverinfo="skip", showlegend=False,
                                 increasing=dict(line=dict(color="#1C1C1C", width=1), fillcolor=GREEN),
                                 decreasing=dict(line=dict(color="#1C1C1C", width=1), fillcolor=RED)))

    layout_axes["xaxis" + k] = dict(
        domain=[PX(left), PX(right)], range=list(p["xr"]), anchor=ya, showgrid=False, zeroline=False,
        showline=True, linecolor="#6F6F6F", linewidth=1.5, mirror=True, ticks="outside", ticklen=3, tickwidth=1, tickcolor="#555555",
        tickmode="array", tickvals=[i * TICK_STEP for i in range(len(p["xt"]))], ticktext=p["xt"],
        ticklabelposition="outside right", tickangle=0, tickfont=dict(family=FONT, size=8, color="#2E2E2E"),
        rangeslider=dict(visible=False), fixedrange=True)
    layout_axes["yaxis" + k] = dict(
        domain=[PY(pbot), PY(ptop)], range=[ymin, ymax], anchor=xa, side="right", showgrid=False, zeroline=False,
        showline=True, linecolor="#6F6F6F", linewidth=1.5, mirror=True, ticks="outside", ticklen=3, tickwidth=1, tickcolor="#555555",
        tickmode="array", tickvals=[float(t) for t in p["yt"]], ticktext=p["yt"],
        tickfont=dict(family=FONT, size=8, color="#2E2E2E"), fixedrange=True)
    layout_axes["xaxis" + o] = dict(overlaying=xa, anchor=yo, range=list(p["xr"]), visible=False,
                                    rangeslider=dict(visible=False), fixedrange=True)
    layout_axes["yaxis" + o] = dict(overlaying=ya, anchor=xo, range=[ymin, ymax], visible=False, fixedrange=True)

    annots.append(dict(text=p["last"], xref=f"{xa} domain", yref=ya, x=1, y=last, xanchor="left", yanchor="middle", xshift=2,
                       showarrow=False, bgcolor="#000000", borderpad=1, font=dict(family=FONT, size=8, color="#FFFFFF")))
    annots.append(dict(text="▼", xref="paper", yref="paper", x=PX(p["tx"]), y=PY(ptop + 7), xanchor="center", yanchor="middle",
                       showarrow=False, font=dict(family="DejaVu Sans", size=5.5, color="#111111")))
    annots.append(dict(text=p["head"].replace("  ", "&nbsp;&nbsp;"), xref="paper", yref="paper", x=PX(p["hx"]), y=PY(ptop + 7),
                       xanchor="left", yanchor="middle", showarrow=False, font=dict(family=FONT, size=7.5, color="#2E2E2E")))
    tm = p["tmark"]
    shapes.append(dict(type="path", xref="paper", yref="paper", layer="above", fillcolor="#8C8C8C", line=dict(width=0),
                       path=f"M {PX(tm - 4)} {PY(ptop)} L {PX(tm + 4)} {PY(ptop)} L {PX(tm)} {PY(ptop + 4)} Z"))

fig.update_layout(width=W, height=H, autosize=False, margin=dict(l=0, r=0, t=0, b=0), paper_bgcolor="#DCE6EF", plot_bgcolor="#FFFFFF",
                  showlegend=False, hovermode=False, shapes=shapes, annotations=annots, dragmode=False, **layout_axes)

fig.write_html("out.html", config={"staticPlot": True, "displayModeBar": False},
               post_script="document.body.style.margin='0';document.body.style.overflow='hidden';")
